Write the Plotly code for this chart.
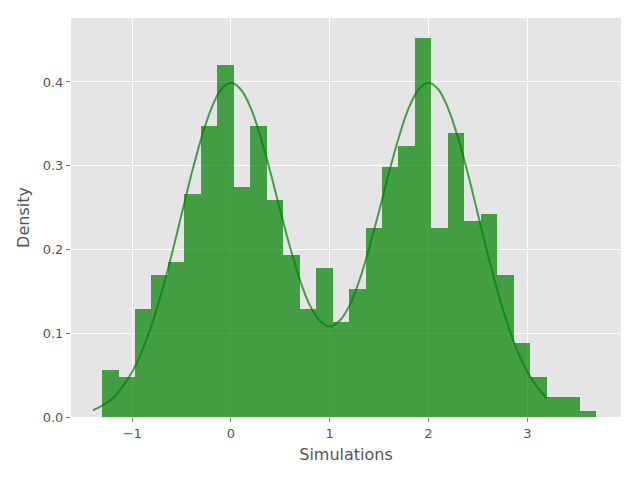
import numpy as np
import plotly.graph_objects as go

# histogram bins (edges) and density heights
bin_edges = [-1.306, -1.139, -0.973, -0.806, -0.639, -0.472, -0.306, -0.139,
             0.028, 0.195, 0.361, 0.528, 0.695, 0.862, 1.028, 1.195, 1.362,
             1.528, 1.695, 1.862, 2.029, 2.195, 2.362, 2.529, 2.696, 2.862,
             3.029, 3.196, 3.362, 3.529, 3.696]
density = [0.056, 0.048, 0.129, 0.170, 0.185, 0.266, 0.347, 0.420, 0.275,
           0.347, 0.259, 0.193, 0.129, 0.178, 0.113, 0.153, 0.226, 0.298,
           0.324, 0.453, 0.226, 0.339, 0.234, 0.242, 0.170, 0.088, 0.048,
           0.024, 0.024, 0.007]

# density curve points
curve_x = [-1.4, -1.3, -1.2, -1.1, -1.0, -0.9, -0.8, -0.7, -0.6, -0.5, -0.4,
           -0.3, -0.2, -0.1, 0.0, 0.1, 0.2, 0.3, 0.4, 0.5, 0.6, 0.7, 0.8, 0.9,
           1.0, 1.1, 1.2, 1.3, 1.4, 1.5, 1.6, 1.7, 1.8, 1.9, 2.0, 2.1, 2.2,
           2.3, 2.4, 2.5, 2.6, 2.7, 2.8, 2.9, 3.0, 3.1, 3.2]
curve_y = [0.008, 0.014, 0.022, 0.036, 0.054, 0.079, 0.111, 0.150, 0.194,
           0.242, 0.290, 0.333, 0.368, 0.391, 0.399, 0.391, 0.369, 0.334,
           0.292, 0.246, 0.202, 0.163, 0.133, 0.115, 0.108, 0.115, 0.133,
           0.163, 0.202, 0.246, 0.292, 0.334, 0.369, 0.391, 0.399, 0.391,
           0.368, 0.333, 0.290, 0.242, 0.194, 0.150, 0.111, 0.079, 0.054,
           0.036, 0.022]

x_ticks = [-1, 0, 1, 2, 3]
y_ticks = [0.0, 0.1, 0.2, 0.3, 0.4]

edges = np.array(bin_edges)
centers = (edges[:-1] + edges[1:]) / 2
widths = np.diff(edges)

fig = go.Figure()
fig.add_trace(go.Bar(x=centers, y=density, width=widths,
                     marker=dict(color='green', line=dict(width=0)),
                     opacity=0.7, showlegend=False))
fig.add_trace(go.Scatter(x=curve_x, y=curve_y, mode='lines',
                         line=dict(color='rgba(0,128,0,0.7)', width=2, shape='spline'),
                         showlegend=False))

axis_font = dict(family='DejaVu Sans', size=13, color='#555555')
title_font = dict(family='DejaVu Sans', size=16, color='#555555')

fig.update_layout(
    width=640, height=480,
    autosize=False,
    margin=dict(l=63, r=27, t=10, b=71, pad=0),
    paper_bgcolor='white',
    plot_bgcolor='#E5E5E5',
    bargap=0,
    xaxis=dict(range=[-1.62, 3.949], tickvals=x_ticks,
               showgrid=True, gridcolor='white', gridwidth=1,
               zeroline=False, ticks='outside', ticklen=4, tickcolor='#777777',
               tickfont=axis_font, title=dict(text='Simulations', font=title_font, standoff=9)),
    yaxis=dict(range=[0, 0.4764], tickvals=y_ticks, tickformat='.1f',
               showgrid=True, gridcolor='white', gridwidth=1,
               zeroline=False, ticks='outside', ticklen=4, tickcolor='#777777',
               tickfont=axis_font, title=dict(text='Density', font=title_font, standoff=9)),
)

fig.write_html("out.html")
